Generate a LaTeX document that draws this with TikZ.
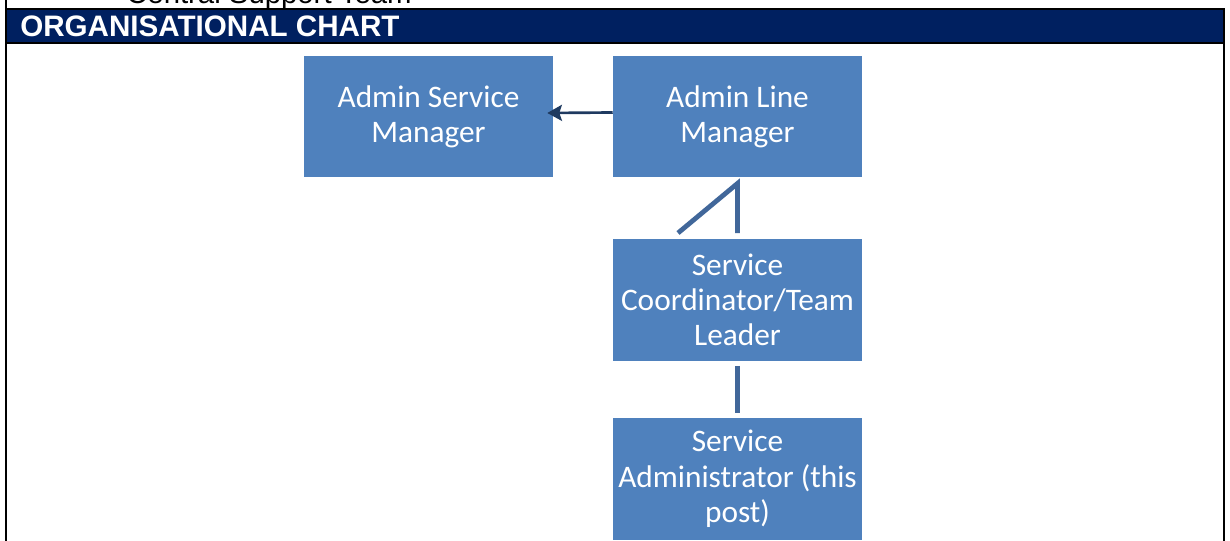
\documentclass[tikz,border=0pt]{standalone}
\usepackage{fontspec}
\setmainfont{Carlito}
\newfontfamily\arialfont{Liberation Sans}
\usepackage{xcolor}
\usetikzlibrary{positioning,calc,arrows.meta}
\definecolor{boxblue}{HTML}{4F81BD}
\definecolor{headblue}{HTML}{002060}
\definecolor{linkblue}{HTML}{41679A}
\definecolor{arrowblue}{HTML}{1F3A60}

\begin{document}
\begin{tikzpicture}[x=0.75pt, y=-0.75pt,
    post/.style={fill=boxblue, text=white, minimum width=186.75pt, minimum height=91pt, align=center, inner sep=0pt, font=\fontsize{23.5}{26.5}\selectfont},
    rule/.style={draw=black, line width=1.5pt},
    link/.style={draw=linkblue, line width=3.6pt},
    reports/.style={draw=arrowblue, line width=2pt, -{Stealth[length=11pt, width=12pt, inset=2pt]}}]
    \useasboundingbox (0,0) rectangle (1230,541);
    \clip (0,0) rectangle (1230,541);

    % table frame and heading
    \fill[headblue] (6,9) rectangle (1224,43);
    \draw[rule] (6,0) -- (6,541);
    \draw[rule] (6,9) -- (1224,9) -- (1224,541);
    \draw[rule] (6,43) -- (1224,43);
    \node[anchor=base west, inner sep=0pt, font=\arialfont\fontsize{22}{24}\selectfont] (team) at (126,3.5) {Central Support Team};
    \node[anchor=base west, inner sep=0pt, text=white, font=\arialfont\bfseries\fontsize{22.2}{24}\selectfont] (head) at (20,36.5) {ORGANISATIONAL CHART};

    % posts
    \node[post] (asm) at (428.5,116.5) {Admin Service\\Manager};
    \node[post, right of=asm, node distance=231.75pt] (lm) {Admin Line\\Manager};
    \node[post, below of=lm, node distance=137.6pt] (sc) {Service\\Coordinator/Team\\Leader};
    \node[post, below of=sc, node distance=134.25pt] (sa) {Service\\Administrator (this\\post)};

    \coordinate (kink) at (678,233);
    \draw[reports] ($(lm.west)+(0,-4)$) -- ($(asm.east)+(-6,-3.5)$);
    \draw[link] (kink) -- ($(lm.south)+(0,6)$) -- ($(sc.north)+(0,-6)$);
    \draw[link] ($(sc.south)+(0,5)$) -- ($(sa.north)+(0,-5)$); % one line down
\end{tikzpicture}
\end{document}
